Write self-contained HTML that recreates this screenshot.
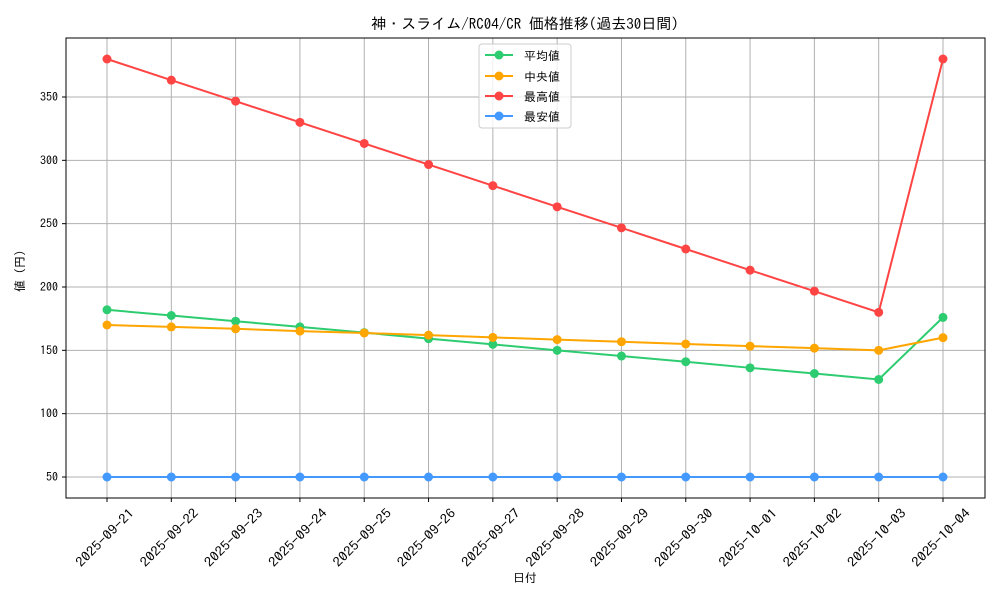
<!DOCTYPE html>
<html><head><meta charset="utf-8"><style>
body{margin:0;background:#fff;}
svg text{font-family:"IPAGothic","Noto Sans CJK JP",monospace;fill:#000;}
</style></head><body>
<svg width="1000" height="600" xmlns="http://www.w3.org/2000/svg">
<rect width="1000" height="600" fill="#fff"/>
<text x="525" y="29" font-size="15" text-anchor="middle">神・スライム/RC04/CR 価格推移(過去30日間)</text>
<g id="grid" stroke="#b0b0b0" stroke-width="1"></g>
<rect x="66" y="38" width="919" height="460" fill="none" stroke="#000" stroke-width="1"/>
<g id="ticks" font-size="12"></g>
<g id="series"></g>
<text x="525" y="582" font-size="12" text-anchor="middle">日付</text>
<text transform="translate(24,268) rotate(-90)" font-size="12" text-anchor="middle">値（円）</text>
<g>
<rect x="479" y="44" width="92" height="84" fill="#fff" fill-opacity="0.8" stroke="#ccc" rx="3"/>
<line x1="485" y1="55" x2="513" y2="55" stroke="#2ecc71" stroke-width="2"/><circle cx="499" cy="55" r="4.5" fill="#2ecc71"/><text x="524" y="60" font-size="12">平均値</text>
<line x1="485" y1="76" x2="513" y2="76" stroke="#ffa500" stroke-width="2"/><circle cx="499" cy="76" r="4.5" fill="#ffa500"/><text x="524" y="81" font-size="12">中央値</text>
<line x1="485" y1="96" x2="513" y2="96" stroke="#ff4444" stroke-width="2"/><circle cx="499" cy="96" r="4.5" fill="#ff4444"/><text x="524" y="101" font-size="12">最高値</text>
<line x1="485" y1="116" x2="513" y2="116" stroke="#4499ff" stroke-width="2"/><circle cx="499" cy="116" r="4.5" fill="#4499ff"/><text x="524" y="121" font-size="12">最安値</text>
</g>
</svg>
<script>
const ns="http://www.w3.org/2000/svg";
function el(t,a,p){const e=document.createElementNS(ns,t);for(const k in a)e.setAttribute(k,a[k]);p.appendChild(e);return e;}
const X=i=>107+i*(943-107)/13, Y=v=>477-(v-50)*380/300;
const g=document.getElementById('grid'),tk=document.getElementById('ticks'),s=document.getElementById('series');
const dates=["2025-09-21","2025-09-22","2025-09-23","2025-09-24","2025-09-25","2025-09-26","2025-09-27","2025-09-28","2025-09-29","2025-09-30","2025-10-01","2025-10-02","2025-10-03","2025-10-04"];
dates.forEach((d,i)=>{const x=X(i);el('line',{x1:x,x2:x,y1:38,y2:498},g);el('line',{x1:x,x2:x,y1:498,y2:502,stroke:'#000'},tk);
const t=el('text',{x:0,y:0,'text-anchor':'end','font-size':13,textLength:76,lengthAdjust:'spacingAndGlyphs',transform:`translate(${x+28},${514}) rotate(-45)`},tk);t.textContent=d;});
[50,100,150,200,250,300,350].forEach(v=>{const y=Y(v);el('line',{x1:66,x2:985,y1:y,y2:y},g);el('line',{x1:62,x2:66,y1:y,y2:y,stroke:'#000'},tk);
const t=el('text',{x:58,y:y+4,'text-anchor':'end'},tk);t.textContent=v;});
const data=[
["#2ecc71",[182,177.5,173,168.5,164,159.2,154.7,150,145.5,141,136.2,131.7,127,176]],
["#ffa500",[170,168.5,167,165.2,163.7,162,160.2,158.5,156.8,155,153.3,151.7,150,160]],
["#ff4444",[380,363.3,346.7,330,313.3,296.7,280,263.3,246.7,230,213.3,196.7,180,380]],
["#4499ff",Array(14).fill(50)]];
data.forEach(([c,v])=>{el('polyline',{points:v.map((y,i)=>X(i)+","+Y(y)).join(" "),fill:"none",stroke:c,'stroke-width':2},s);
v.forEach((y,i)=>el('circle',{cx:X(i),cy:Y(y),r:4.5,fill:c},s));});
</script>
</body></html>
